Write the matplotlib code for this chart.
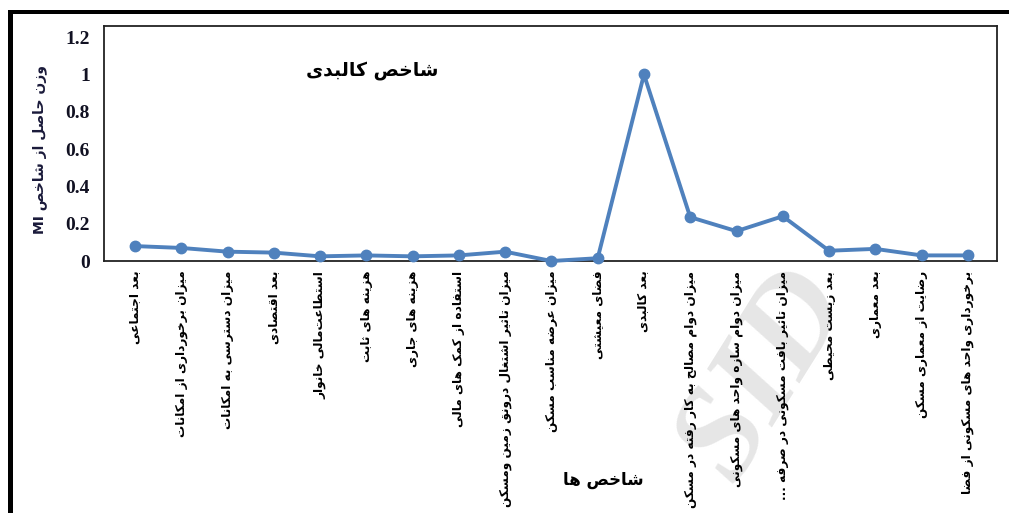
import re
import matplotlib
matplotlib.use("Agg")
import matplotlib.pyplot as plt
from matplotlib.patches import Rectangle

# ---------------- data ----------------
categories = [
    "بعد اجتماعی",
    "میزان برخورداری از امکانات",
    "میزان دسترسی به امکانات",
    "بعد اقتصادی",
    "استطاعت‌مالی خانوار",
    "هزینه های ثابت",
    "هزینه های جاری",
    "استفاده از کمک های مالی",
    "میزان تاثیر اشتغال درونق زمین ومسکن",
    "میزان عرضه مناسب مسکن",
    "فضای معیشتی",
    "بعد کالبدی",
    "میزان دوام مصالح به کار رفته در مسکن",
    "میزان دوام سازه واحد های مسکونی",
    "میزان تاثیر بافت مسکونی در صرفه ...",
    "بعد زیست محیطی",
    "بعد معماری",
    "رضایت از معماری مسکن",
    "برخورداری واحد های مسکونی از فضا",
]
values = [0.08, 0.07, 0.05, 0.045, 0.025, 0.03, 0.025, 0.03, 0.05, 0.0,
          0.015, 1.0, 0.235, 0.16, 0.24, 0.055, 0.065, 0.03, 0.03]
yticks = [0, 0.2, 0.4, 0.6, 0.8, 1, 1.2]
ytick_labels = ["0", "0.2", "0.4", "0.6", "0.8", "1", "1.2"]
title_text = "شاخص کالبدی"
xlabel_text = "شاخص ها"
ylabel_text = "وزن حاصل از شاخص MI"

# ------------- minimal Persian shaping (presentation forms) -------------
FORMS = {  # isolated, final, initial, medial
    'ا': (0xFE8D, 0xFE8E, None, None), 'آ': (0xFE81, 0xFE82, None, None),
    'أ': (0xFE83, 0xFE84, None, None), 'إ': (0xFE87, 0xFE88, None, None),
    'ب': (0xFE8F, 0xFE90, 0xFE91, 0xFE92), 'ت': (0xFE95, 0xFE96, 0xFE97, 0xFE98),
    'ث': (0xFE99, 0xFE9A, 0xFE9B, 0xFE9C), 'ج': (0xFE9D, 0xFE9E, 0xFE9F, 0xFEA0),
    'ح': (0xFEA1, 0xFEA2, 0xFEA3, 0xFEA4), 'خ': (0xFEA5, 0xFEA6, 0xFEA7, 0xFEA8),
    'د': (0xFEA9, 0xFEAA, None, None), 'ذ': (0xFEAB, 0xFEAC, None, None),
    'ر': (0xFEAD, 0xFEAE, None, None), 'ز': (0xFEAF, 0xFEB0, None, None),
    'س': (0xFEB1, 0xFEB2, 0xFEB3, 0xFEB4), 'ش': (0xFEB5, 0xFEB6, 0xFEB7, 0xFEB8),
    'ص': (0xFEB9, 0xFEBA, 0xFEBB, 0xFEBC), 'ض': (0xFEBD, 0xFEBE, 0xFEBF, 0xFEC0),
    'ط': (0xFEC1, 0xFEC2, 0xFEC3, 0xFEC4), 'ظ': (0xFEC5, 0xFEC6, 0xFEC7, 0xFEC8),
    'ع': (0xFEC9, 0xFECA, 0xFECB, 0xFECC), 'غ': (0xFECD, 0xFECE, 0xFECF, 0xFED0),
    'ف': (0xFED1, 0xFED2, 0xFED3, 0xFED4), 'ق': (0xFED5, 0xFED6, 0xFED7, 0xFED8),
    'ل': (0xFEDD, 0xFEDE, 0xFEDF, 0xFEE0), 'م': (0xFEE1, 0xFEE2, 0xFEE3, 0xFEE4),
    'ن': (0xFEE5, 0xFEE6, 0xFEE7, 0xFEE8), 'ه': (0xFEE9, 0xFEEA, 0xFEEB, 0xFEEC),
    'و': (0xFEED, 0xFEEE, None, None), 'ی': (0xFBFC, 0xFBFD, 0xFBFE, 0xFBFF),
    'ک': (0xFB8E, 0xFB8F, 0xFB90, 0xFB91), 'گ': (0xFB92, 0xFB93, 0xFB94, 0xFB95),
    'پ': (0xFB56, 0xFB57, 0xFB58, 0xFB59), 'چ': (0xFB7A, 0xFB7B, 0xFB7C, 0xFB7D),
    'ژ': (0xFB8A, 0xFB8B, None, None),
}


def dual(c):
    return c in FORMS and FORMS[c][2] is not None


def shape(s):
    out = []
    chars = list(s)
    n = len(chars)
    i = 0
    while i < n:
        c = chars[i]
        if c not in FORMS:
            out.append('' if c == '\u200c' else c)
            i += 1
            continue
        prev = chars[i - 1] if i > 0 else ''
        con_prev = dual(prev)
        if c == 'ل' and i + 1 < n and chars[i + 1] == 'ا':
            out.append(chr(0xFEFC if con_prev else 0xFEFB))
            i += 2
            continue
        nxt = chars[i + 1] if i + 1 < n else ''
        con_next = dual(c) and nxt in FORMS
        iso, fin, ini, med = FORMS[c]
        if con_prev and con_next:
            f = med
        elif con_prev:
            f = fin
        elif con_next:
            f = ini
        else:
            f = iso
        out.append(chr(f))
        i += 1
    return ''.join(out)


def fa(s):
    shaped = shape(s)
    runs = re.findall(r'[A-Za-z0-9]+|[^A-Za-z0-9]+', shaped)
    res = []
    for r in reversed(runs):
        if re.match(r'[A-Za-z0-9]', r):
            res.append(r)
        else:
            res.append(r[::-1])
    return ''.join(res)


# ---------------- figure ----------------
W, H = 1009, 513
fig = plt.figure(figsize=(W / 100, H / 100), dpi=100)
fig.patch.set_facecolor("white")

# watermark (behind everything)
fig.text(765 / W, 1 - 375 / H, "SID", ha="center", va="center", rotation=58,
         fontfamily="Liberation Serif", fontstyle="italic", fontweight="bold",
         fontsize=95, color="#e6e6e6", zorder=-5)

left, right, top, bottom = 104, 997, 26, 261
ax = fig.add_axes([left / W, 1 - bottom / H, (right - left) / W, (bottom - top) / H])
ax.patch.set_alpha(0)

x = list(range(len(categories)))
line_color = "#4F81BD"
ax.plot(x, values, color=line_color, lw=2.8, marker="o", ms=7.5,
        markerfacecolor=line_color, markeredgecolor=line_color, zorder=3,
        clip_on=False)

ax.set_xlim(-0.67, len(categories) - 1 + 0.63)
ax.set_ylim(0, 1.26)
ax.set_yticks(yticks)
ax.set_yticklabels(ytick_labels, fontfamily="Liberation Serif",
                   fontweight="bold", fontsize=14, color="#111122")
ax.tick_params(axis="y", length=0, pad=10)
ax.set_xticks(x)
ax.set_xticklabels([fa(c) for c in categories], rotation=90,
                   fontfamily="DejaVu Sans", fontweight="bold", fontsize=8.7,
                   va="top", ha="center")
ax.tick_params(axis="x", length=0, pad=7)
for sp in ax.spines.values():
    sp.set_linewidth(1.3)
    sp.set_color("#222222")

ax.text(0.30, 0.81, fa(title_text), transform=ax.transAxes, ha="center",
        va="center", fontfamily="DejaVu Sans", fontweight="bold", fontsize=13.5)

fig.text(603 / W, 1 - 480 / H, fa(xlabel_text), ha="center", va="center",
         fontfamily="DejaVu Sans", fontweight="bold", fontsize=12)
fig.text(40 / W, 1 - 150 / H, fa(ylabel_text), ha="center", va="center",
         rotation=90, fontfamily="DejaVu Sans", fontweight="bold",
         fontsize=10, color="#1a1a3a")

# page border lines
fig.add_artist(Rectangle((8 / W, 1 - 14 / H), (W - 8) / W, 4 / H,
                         transform=fig.transFigure, color="black", lw=0))
fig.add_artist(Rectangle((8 / W, 0), 5 / W, 1 - 10 / H,
                         transform=fig.transFigure, color="black", lw=0))

fig.savefig("out.png", dpi=100, facecolor="white")
